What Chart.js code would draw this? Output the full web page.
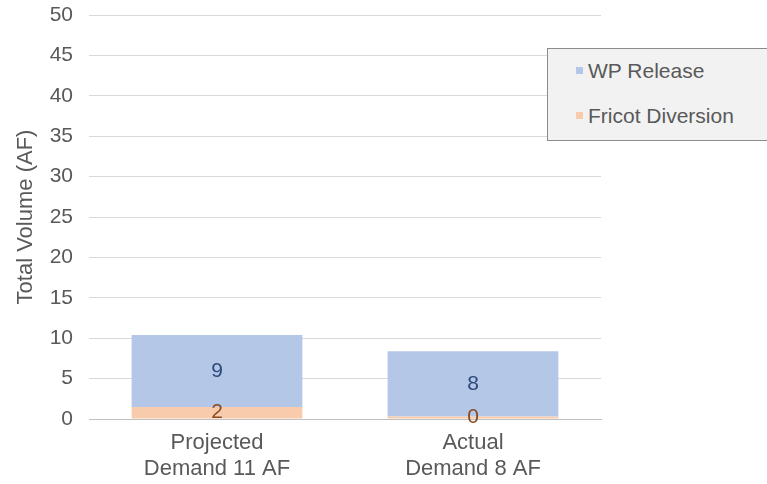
<!DOCTYPE html>
<html>
<head>
<meta charset="utf-8">
<script src="https://cdn.jsdelivr.net/npm/chart.js@4/dist/chart.umd.min.js"></script>
<style>
  html, body { margin: 0; padding: 0; background: #fff; }
  #wrap { position: relative; width: 767px; height: 484px; }
  #legend {
    position: absolute; left: 547px; top: 48px; width: 222px; height: 93px;
    background: #f2f2f2; border: 1px solid #8c8c8c; box-sizing: border-box;
    font-family: "Liberation Sans", Arial, sans-serif; font-size: 21px; color: #595959;
  }
  #legend div { position: absolute; left: 28px; white-space: nowrap; }
  #legend span { display: inline-block; width: 7px; height: 7px; margin-right: 5px; vertical-align: middle; position: relative; top: -2px; }
</style>
</head>
<body>
<div id="wrap">
  <canvas id="chart" width="767" height="484"></canvas>
  <div id="legend"></div>
</div>
<script>
const categories = [["Projected", "Demand 11 AF"], ["Actual", "Demand 8 AF"]];
const seriesNames = ["Fricot Diversion", "WP Release"];
const fricotDiversion = [1.5, 0.3];
const wpRelease = [8.9, 8.1];
const yTicks = [0, 5, 10, 15, 20, 25, 30, 35, 40, 45, 50];

const colors = { "WP Release": "#b4c7e7", "Fricot Diversion": "#f8cbad" };
const labelColors = { "WP Release": "#2e4a78", "Fricot Diversion": "#8a4b1f" };
const font = "'Liberation Sans', Arial, sans-serif";

// draw rounded values in the middle of each segment
const segmentLabels = {
  id: 'segmentLabels',
  afterDatasetsDraw(chart) {
    const ctx = chart.ctx;
    ctx.save();
    ctx.font = "21px " + font;
    ctx.textAlign = 'center';
    ctx.textBaseline = 'middle';
    chart.data.datasets.forEach((ds, i) => {
      const meta = chart.getDatasetMeta(i);
      meta.data.forEach((bar, j) => {
        const p = bar.getCenterPoint();
        ctx.fillStyle = labelColors[ds.label];
        ctx.fillText(Math.round(ds.data[j]), p.x, p.y);
      });
    });
    ctx.restore();
  }
};

new Chart(document.getElementById('chart'), {
  type: 'bar',
  data: {
    labels: categories,
    datasets: [
      { label: seriesNames[0], data: fricotDiversion, backgroundColor: colors["Fricot Diversion"] },
      { label: seriesNames[1], data: wpRelease, backgroundColor: colors["WP Release"] }
    ]
  },
  options: {
    responsive: false,
    animation: false,
    layout: { padding: { top: 15, right: 166, bottom: 0, left: 0 } },
    plugins: { legend: { display: false }, tooltip: { enabled: false } },
    datasets: { bar: { categoryPercentage: 1, barPercentage: 0.667 } },
    scales: {
      x: {
        stacked: true,
        afterFit(scale) { scale.height = 65; },
        grid: { display: false },
        border: { color: '#bfbfbf' },
        ticks: { color: '#595959', font: { family: font, size: 22, lineHeight: 1.18 }, padding: 3 }
      },
      y: {
        stacked: true,
        min: 0, max: 50,
        afterBuildTicks(scale) { scale.ticks = yTicks.map(v => ({ value: v })); },
        afterFit(scale) { scale.width = 89; scale.paddingTop = 0; scale.paddingBottom = 0; },
        grid: { color: '#d9d9d9', drawTicks: false },
        border: { display: false },
        ticks: { color: '#595959', font: { family: font, size: 21 }, padding: 16 },
        title: { display: true, text: 'Total Volume (AF)', color: '#595959', font: { family: font, size: 22 }, padding: { top: 13 } }
      }
    }
  },
  plugins: [segmentLabels]
});

// legend box, same order as the picture
const legend = document.getElementById('legend');
[["WP Release", 10], ["Fricot Diversion", 55]].forEach(([name, top]) => {
  const d = document.createElement('div');
  d.style.top = top + 'px';
  d.innerHTML = '<span style="background:' + colors[name] + '"></span>' + name;
  legend.appendChild(d);
});
</script>
</body>
</html>
